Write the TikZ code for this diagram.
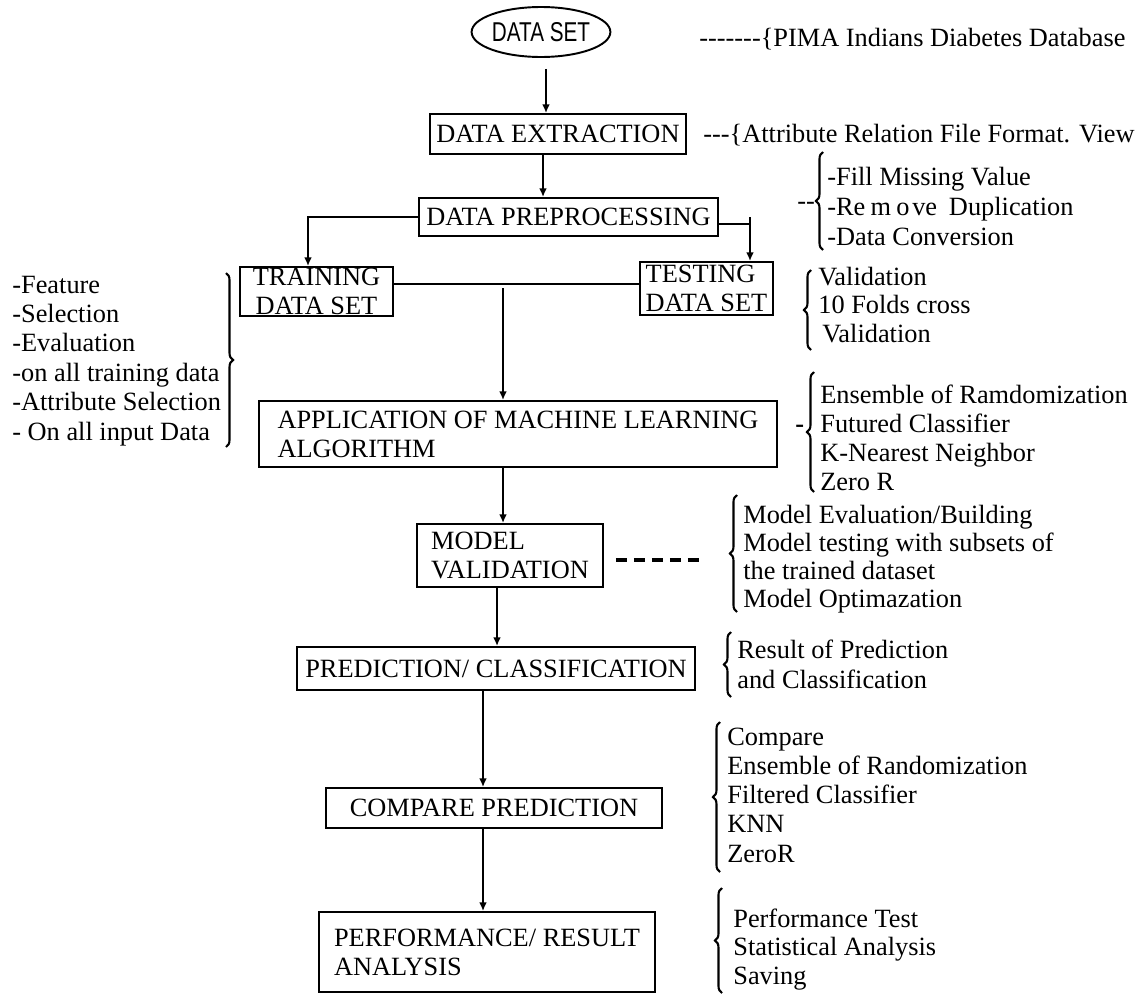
\documentclass[tikz,border=0pt]{standalone}
\usepackage{fontspec}
\setmainfont{Liberation Serif}
\newfontfamily\dsfont[FakeStretch=0.76]{Liberation Sans}
\usetikzlibrary{shapes.geometric,arrows.meta,decorations.pathreplacing,calc}
\newcommand\myhy{\mbox{-}}
\begin{document}
\begin{tikzpicture}[x=0.02cm,y=-0.02cm,
  every node/.style={font=\fontsize{15}{16.5}\selectfont},
  box/.style={draw,line width=1.1pt,rectangle,inner sep=0pt},
  arr/.style={line width=1.1pt,-{Latex[length=5pt,width=4.5pt]}},
  plain/.style={line width=1.1pt},
  ann/.style={anchor=base west,inner sep=0pt},
  brc/.style={decorate,decoration={brace,amplitude=4pt},line width=1.2pt}]
\useasboundingbox (0,0) rectangle (1136,994);

% main flow
\node[draw,ellipse,line width=1.1pt,minimum width=2.72cm,minimum height=1.0cm,inner sep=0pt,
      font=\dsfont\fontsize{15.5}{17}\selectfont] (ds) at (541,32) {DATA SET};
\node[box,minimum width=5.12cm,minimum height=0.8cm] (ext) at (558,134) {DATA EXTRACTION};
\node[box,minimum width=5.98cm,minimum height=0.76cm] (pre) at (568.5,217) {DATA PREPROCESSING};
\node[box,minimum width=3.06cm,minimum height=0.98cm,align=center,
      font=\fontsize{15}{16.5}\selectfont] (train) at (316.5,291.5) {TRAINING\\DATA SET};
\node[box,minimum width=2.66cm,minimum height=1.06cm,align=left,
      font=\fontsize{15}{16.5}\selectfont] (test) at (706.5,288.5) {TESTING\\DATA SET};
\node[box,minimum width=10.36cm,minimum height=1.32cm,align=left] (app) at (518,434)
      {APPLICATION OF MACHINE LEARNING\\ALGORITHM};
\node[box,minimum width=3.72cm,minimum height=1.26cm,align=left] (mv) at (510,555.5) {MODEL\\VALIDATION};
\node[box,minimum width=7.96cm,minimum height=0.86cm] (pred) at (496,668.5) {PREDICTION/ CLASSIFICATION};
\node[box,minimum width=6.72cm,minimum height=0.8cm] (cmp) at (494,808) {COMPARE PREDICTION};
\node[box,minimum width=6.72cm,minimum height=1.6cm,align=left] (perf) at (487,952)
      {PERFORMANCE/ RESULT\\ANALYSIS};

% connectors
\draw[arr] ([xshift=0.1cm,yshift=-0.22cm]ds.south) -- ([xshift=0.1cm]ds.south |- ext.north);
\draw[arr] ([xshift=-0.3cm]ext.south) -- ([xshift=-0.3cm]ext.south |- pre.north);
\draw[arr] (pre.west) -| ([xshift=-0.17cm]train.north);
\draw[arr] ([yshift=-0.14cm]pre.east) -| ([xshift=0.87cm]test.north);
\draw[plain] ([xshift=0.87cm]test.north |- pre.east) -- ++(0,7);
\draw[plain] ([yshift=0.15cm]train.east) -- ([yshift=0.15cm]train.east -| test.west);
\coordinate (j) at (503,288);
\draw[arr] (j) -- (j |- app.north);
\draw[arr] ([xshift=-0.3cm]app.south) -- ([xshift=-0.3cm]app.south |- mv.north);
\draw[arr] ([xshift=-0.26cm]mv.south) -- ([xshift=-0.26cm]mv.south |- pred.north);
\draw[arr] ([xshift=-0.26cm]pred.south) -- ([xshift=-0.26cm]pred.south |- cmp.north);
\draw[arr] ([xshift=-0.22cm]cmp.south) -- ([xshift=-0.22cm]cmp.south |- perf.north);
\coordinate (dashA) at ([xshift=0.24cm,yshift=-0.09cm]mv.east);
\coordinate (dashB) at ([xshift=1.94cm,yshift=-0.09cm]mv.east);
\draw[line width=1.8pt,dash pattern=on 0.22cm off 0.14cm] (dashA) -- (dashB);

% annotations
\node[ann] (pima) at (699,46) {\myhy\myhy\myhy\myhy\myhy\myhy\myhy\{PIMA Indians Diabetes Database};
\node[ann] (arff) at (703,142) {\myhy\myhy\myhy\{Attribute Relation File Format. View};

\node[ann] (filldash) at (797,209) {\myhy\myhy};
\foreach \t [count=\i] in {-Fill Missing Value,
  -Re\hspace{0.2em}m\hspace{0.2em}o\hspace{0.1em}ve\hspace{0.2em} Duplication,
  -Data Conversion}
  \node[ann] (fill\i) at (827,{185+30*(\i-1)}) {\t};
\draw[brc] (823,250) -- (823,152);

\node[ann] (val1) at (818,285) {Validation};
\node[ann] (val2) at (818,313) {10 Folds cross};
\node[ann] (val3) at (822,342) {Validation};
\draw[brc] (811,350) -- (811,270);

\foreach \t [count=\i] in {-Feature,-Selection,-Evaluation,-on all training data,
  -Attribute Selection,- On all input Data}
  \node[ann] (left\i) at (12,{293+29.4*(\i-1)}) {\t};
\draw[brc] (226,273) -- (226,447);

\node[ann] (ensdash) at (795,432) {\textbf{-}};
\foreach \t [count=\i] in {Ensemble of Ramdomization,Futured Classifier,
  K-Nearest Neighbor,Zero R}
  \node[ann] (ens\i) at (820,{403+29.3*(\i-1)}) {\t};
\draw[brc] (814,492) -- (814,372);

\foreach \t [count=\i] in {Model Evaluation/Building,Model testing with subsets of,
  the trained dataset,Model Optimazation}
  \node[ann] (mod\i) at (743,{523+28*(\i-1)}) {\t};
\draw[brc] (737,612) -- (737,495);

\node[ann] (res1) at (737,658) {Result of Prediction};
\node[ann] (res2) at (737,688) {and Classification};
\draw[brc] (731,697) -- (731,632);

\foreach \t [count=\i] in {Compare,Ensemble of Randomization,Filtered Classifier,KNN,ZeroR}
  \node[ann] (cmp\i) at (727,{745+29.25*(\i-1)}) {\t};
\draw[brc] (720,872) -- (720,722);

\foreach \t [count=\i] in {Performance Test,Statistical Analysis,Saving}
  \node[ann] (perf\i) at (733,{927+28.5*(\i-1)}) {\t};
\draw[brc] (722,993) -- (722,888);
\end{tikzpicture}
\end{document}
